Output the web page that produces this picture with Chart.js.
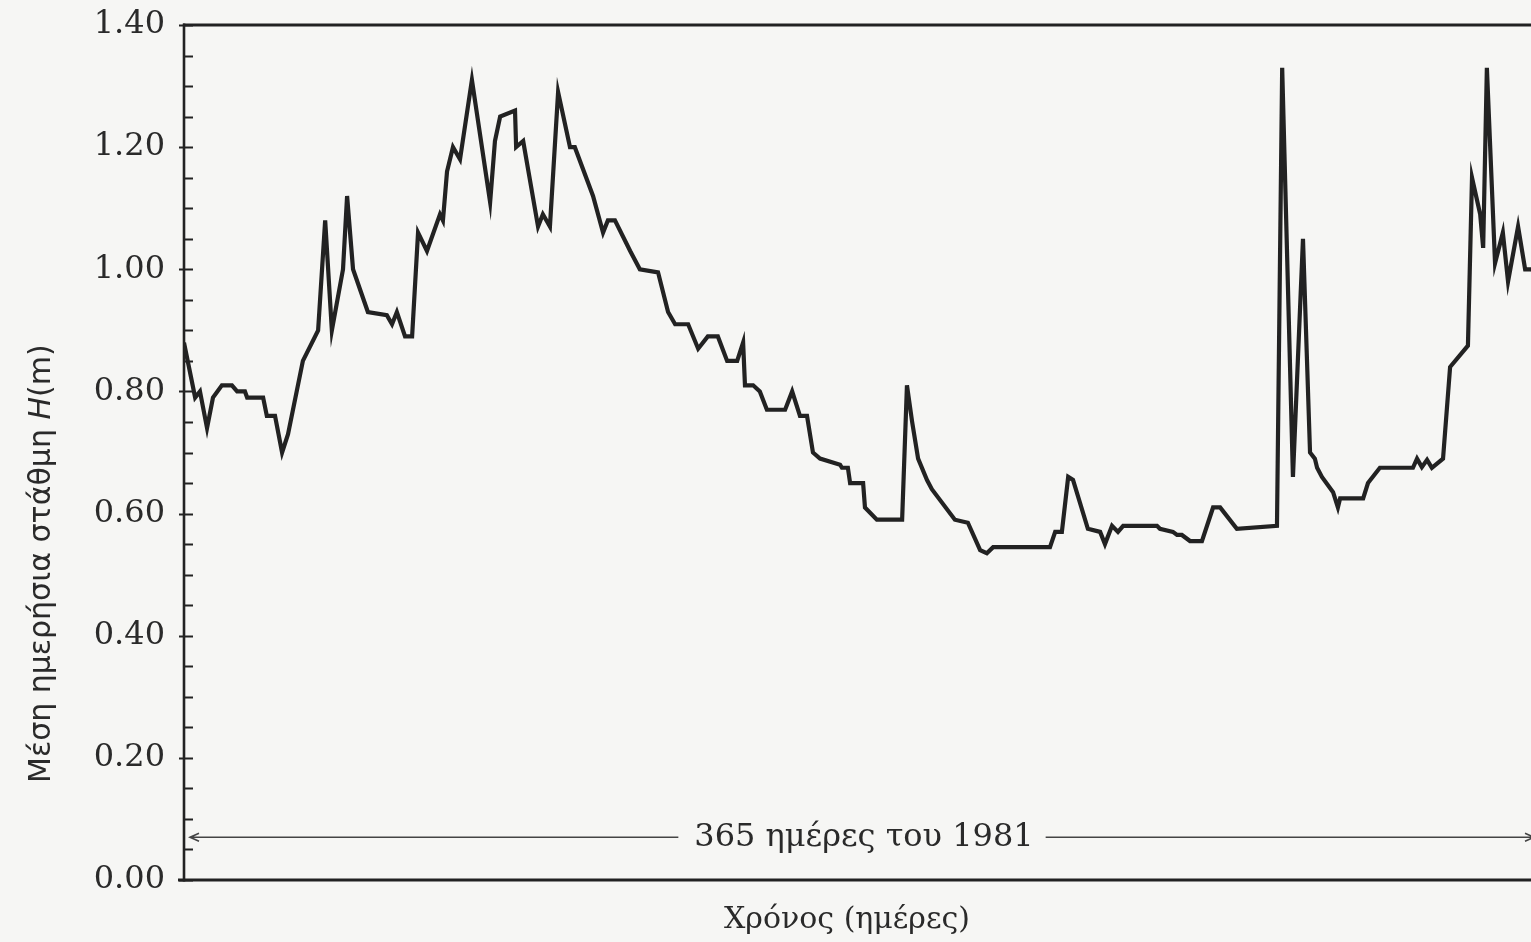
<!DOCTYPE html>
<html>
<head>
<meta charset="utf-8">
<script src="https://cdn.jsdelivr.net/npm/chart.js@4.4.1/dist/chart.umd.min.js"></script>
<style>
  html, body { margin: 0; padding: 0; background: #f6f6f4; overflow: hidden; width: 1531px; height: 942px; }
  #wrap { position: relative; width: 1545px; height: 942px; }
</style>
</head>
<body>
<div id="wrap"><canvas id="chart"></canvas></div>
<script>
// Day of the year 1981 for each recorded break in the hydrograph
const days = [
  0, 3, 4.3, 6.2, 7.8, 10.2, 12.9, 14.3, 16.4, 17,
  21.3, 22.3, 24.5, 26.4, 28, 32, 36.1, 38, 39.8, 42.8,
  43.9, 45.5, 49.5, 54.6, 56, 57.3, 59.5, 61.4, 63, 65.4,
  68.9, 69.7, 70.8, 72.4, 74.3, 77.5, 82.4, 83.7, 85.1, 89.1,
  89.4, 91.3, 95.3, 96.6, 98.5, 100.7, 103.9, 105.2, 110.1, 112.8,
  114.1, 116, 120.1, 122.7, 127.6, 130.3, 132.2, 135.7, 138.4, 141,
  143.7, 146.2, 148.9, 150.5, 151, 153.2, 155, 156.9, 161.8, 163.7,
  165.8, 167.7, 169.3, 171.2, 176.6, 177.1, 178.7, 179.3, 182.8, 183.3,
  186.5, 193.3, 194.6, 196, 197.6, 200, 201.3, 207.5, 211, 214.3,
  216.1, 217.8, 233.1, 234.5, 236.3, 238, 239.3, 243.3, 246.6, 247.9,
  249.8, 251.4, 252.8, 261.9, 262.7, 266.2, 267.3, 268.6, 270.8, 274,
  277, 278.9, 283.4, 294.2, 295.6, 298.5, 301.2, 303.1, 304.4, 305,
  306.3, 309.3, 310.6, 311.2, 317.4, 318.7, 321.9, 330.8, 331.9, 333.2,
  334.6, 335.9, 338.9, 340.8, 345.6, 346.7, 348.9, 349.7, 350.7, 352.9,
  355, 356.4, 359.1, 361, 362.6, 365
];

// Mean daily stage H (m)
const levels = [
  0.88, 0.79, 0.80, 0.74, 0.79, 0.81, 0.81, 0.80, 0.80, 0.79,
  0.79, 0.76, 0.76, 0.70, 0.73, 0.85, 0.90, 1.08, 0.90, 1.00,
  1.12, 1.00, 0.93, 0.925, 0.91, 0.93, 0.89, 0.89, 1.06, 1.03,
  1.09, 1.08, 1.16, 1.20, 1.18, 1.31, 1.11, 1.21, 1.25, 1.26,
  1.20, 1.21, 1.07, 1.09, 1.07, 1.29, 1.20, 1.20, 1.12, 1.06,
  1.08, 1.08, 1.03, 1.00, 0.995, 0.93, 0.91, 0.91, 0.87, 0.89,
  0.89, 0.85, 0.85, 0.88, 0.81, 0.81, 0.80, 0.77, 0.77, 0.80,
  0.76, 0.76, 0.70, 0.69, 0.68, 0.675, 0.675, 0.65, 0.65, 0.61,
  0.59, 0.59, 0.81, 0.75, 0.69, 0.655, 0.64, 0.59, 0.585, 0.54,
  0.535, 0.545, 0.545, 0.57, 0.57, 0.66, 0.655, 0.575, 0.57, 0.55,
  0.58, 0.57, 0.58, 0.58, 0.575, 0.57, 0.565, 0.565, 0.555, 0.555,
  0.61, 0.61, 0.575, 0.58, 1.33, 0.66, 1.05, 0.70, 0.69, 0.675,
  0.66, 0.635, 0.61, 0.625, 0.625, 0.65, 0.675, 0.675, 0.69, 0.676,
  0.688, 0.675, 0.69, 0.84, 0.875, 1.15, 1.09, 1.035, 1.33, 1.01,
  1.06, 0.98, 1.07, 1.00, 1.00, 0.99
];

// Labelled stage ticks (m); unlabelled minor ticks fall every 0.05 m
const yMajorTicks = [0.00, 0.20, 0.40, 0.60, 0.80, 1.00, 1.20, 1.40];

// Span of the record, drawn as a double arrow along the base
const yearSpan = [0, 365];
const yearSpanLevel = 0.07;
const yearSpanLabel = '365 ημέρες του 1981';

const xTitle = 'Χρόνος (ημέρες)';
const yTitleParts = ['Μέση ημερήσια στάθμη ', 'H', '(m)'];

const INK = '#222';
const TEXT = '#2a2a2a';
const SERIF = '"DejaVu Serif", "Liberation Serif", serif';
const SANS = '"DejaVu Sans", "Liberation Sans", sans-serif';

const isMajor = v => yMajorTicks.some(m => Math.abs(m - v) < 1e-6);

// Frame, inward tick marks, titles and the span arrow
const framePlugin = {
  id: 'frame',
  afterDraw(chart) {
    const { ctx, chartArea } = chart;
    const { left, top, right, bottom } = chartArea;
    const xs = chart.scales.x, ys = chart.scales.y;
    ctx.save();
    ctx.strokeStyle = INK;
    ctx.lineCap = 'butt';

    // frame lines
    ctx.lineWidth = 3;
    ctx.beginPath();
    ctx.moveTo(left - 6, bottom); ctx.lineTo(right + 10, bottom);
    ctx.moveTo(left - 1, top); ctx.lineTo(right + 10, top);
    ctx.stroke();
    ctx.lineWidth = 2.6;
    ctx.beginPath();
    ctx.moveTo(left, top - 1.5); ctx.lineTo(left, bottom + 1.5);
    ctx.stroke();

    // tick marks from the scale's own ticks
    ctx.lineWidth = 1.8;
    ctx.beginPath();
    ys.ticks.forEach(t => {
      const py = Math.round(ys.getPixelForValue(t.value)) + 0.5;
      const x0 = isMajor(t.value) ? left - 5 : left;
      ctx.moveTo(x0, py); ctx.lineTo(left + 9, py);
    });
    ctx.stroke();

    // span arrow with centred label
    const ay = ys.getPixelForValue(yearSpanLevel);
    const ax0 = xs.getPixelForValue(yearSpan[0]) + 6;
    const ax1 = xs.getPixelForValue(yearSpan[1]) - 6;
    const amid = xs.getPixelForValue((yearSpan[0] + yearSpan[1]) / 2);
    ctx.font = '32px ' + SERIF;
    const lw = ctx.measureText(yearSpanLabel).width;
    ctx.strokeStyle = '#444';
    ctx.lineWidth = 1.6;
    ctx.beginPath();
    ctx.moveTo(ax0, ay); ctx.lineTo(amid - lw / 2 - 14, ay);
    ctx.moveTo(amid + lw / 2 + 14, ay); ctx.lineTo(ax1, ay);
    ctx.moveTo(ax0 + 9, ay - 4); ctx.lineTo(ax0, ay); ctx.lineTo(ax0 + 9, ay + 4);
    ctx.moveTo(ax1 - 9, ay - 4); ctx.lineTo(ax1, ay); ctx.lineTo(ax1 - 9, ay + 4);
    ctx.stroke();
    ctx.fillStyle = TEXT;
    ctx.textAlign = 'center';
    ctx.textBaseline = 'middle';
    ctx.fillText(yearSpanLabel, amid + 2, ay);

    // x axis title
    ctx.font = '30px ' + SERIF;
    ctx.textBaseline = 'alphabetic';
    ctx.fillText(xTitle, (left + right) / 2 - 15, bottom + 48);

    // y axis title with italic H
    const fonts = ['30px ' + SANS, 'italic 30px ' + SANS, '30px ' + SANS];
    const widths = yTitleParts.map((s, i) => { ctx.font = fonts[i]; return ctx.measureText(s).width; });
    const total = widths.reduce((a, b) => a + b, 0);
    ctx.translate(left - 134, top + (bottom - top) * 0.63);
    ctx.rotate(-Math.PI / 2);
    ctx.textAlign = 'left';
    ctx.textBaseline = 'alphabetic';
    let cx = -total / 2;
    yTitleParts.forEach((s, i) => {
      ctx.font = fonts[i];
      ctx.fillText(s, cx, 0);
      cx += widths[i];
    });
    ctx.restore();
  }
};

new Chart(document.getElementById('chart'), {
  type: 'line',
  data: {
    datasets: [{
      data: days.map((d, i) => ({ x: d, y: levels[i] })),
      borderColor: INK,
      borderWidth: 4.2,
      borderJoinStyle: 'miter',
      pointRadius: 0,
      tension: 0,
      fill: false
    }]
  },
  options: {
    responsive: true,
    maintainAspectRatio: false,
    animation: false,
    devicePixelRatio: 1,
    layout: { padding: { left: 0, top: 25, right: 5, bottom: 62 } },
    plugins: { legend: { display: false }, tooltip: { enabled: false } },
    scales: {
      x: {
        type: 'linear',
        min: yearSpan[0],
        max: yearSpan[1],
        display: false
      },
      y: {
        type: 'linear',
        min: 0,
        max: 1.4,
        afterFit(scale) {
          scale.width = 184;
          scale.paddingTop = 0;
          scale.paddingBottom = 0;
        },
        grid: { display: false, drawTicks: false },
        border: { display: false },
        ticks: {
          stepSize: 0.05,
          autoSkip: false,
          padding: 19,
          color: TEXT,
          font: { family: SERIF, size: 32 },
          callback: v => isMajor(v) ? v.toFixed(2) : ''
        }
      }
    }
  },
  plugins: [framePlugin]
});
</script>
</body>
</html>
